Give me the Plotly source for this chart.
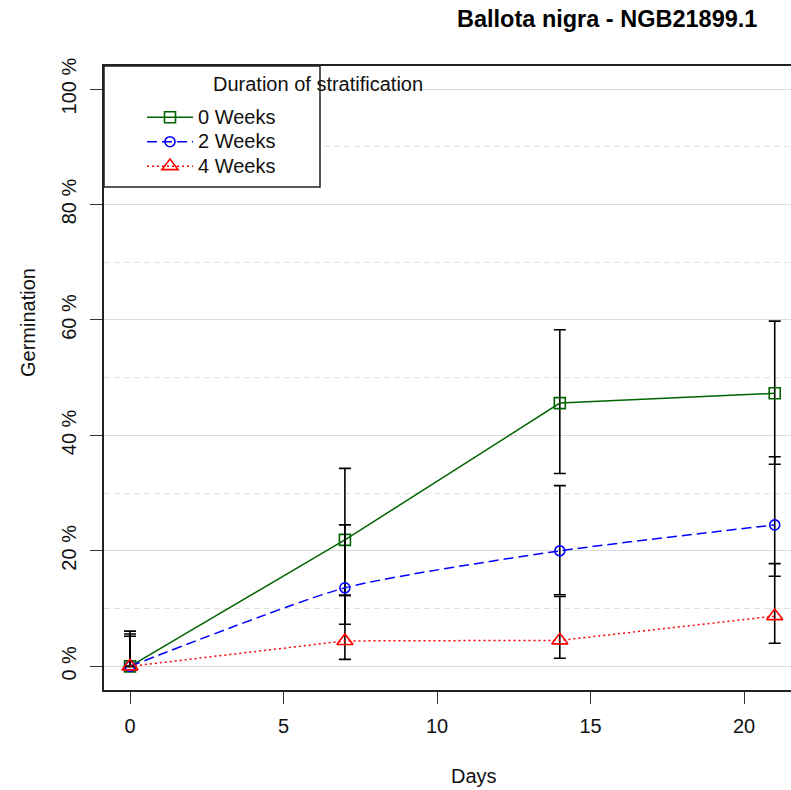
import plotly.graph_objects as go

days = [0, 7, 14, 21]
series_names = ["0 Weeks", "2 Weeks", "4 Weeks"]
mean_0w = [0.0, 21.9, 45.6, 47.3]
upper_0w = [6.1, 34.3, 58.3, 59.8]
lower_0w = [0.0, 12.3, 33.4, 35.0]
mean_2w = [0.0, 13.6, 20.0, 24.5]
upper_2w = [5.6, 24.5, 31.3, 36.3]
lower_2w = [0.0, 7.3, 12.4, 15.6]
mean_4w = [0.0, 4.4, 4.5, 8.7]
upper_4w = [5.2, 12.3, 12.1, 17.8]
lower_4w = [0.0, 1.2, 1.4, 4.0]
y_ticks = [0, 20, 40, 60, 80, 100]
y_ticklabels = ["0 %", "20 %", "40 %", "60 %", "80 %", "100 %"]
x_ticks = [0, 5, 10, 15, 20]

FONT = "Liberation Sans, Arial, sans-serif"
W, H = 791, 790
L, T, R, B = 104, 66, 0, 100
pw, ph = W - L - R, H - T - B

def px_x(p):
    return (p - L) / pw

def px_y(p):
    return (H - B - p) / ph

styles = [
    dict(color="#006400", dash="solid", symbol="square-open", size=11, shape="linear"),
    dict(color="#0000ff", dash="10px,5px", symbol="circle-open", size=10, shape="spline"),
    dict(color="#ff0000", dash="2px,3px", symbol="triangle-up-open", size=14, shape="linear"),
]
data = [(mean_0w, upper_0w, lower_0w), (mean_2w, upper_2w, lower_2w), (mean_4w, upper_4w, lower_4w)]

fig = go.Figure()
for name, (m, u, lo), st in zip(series_names, data, styles):
    fig.add_trace(go.Scatter(
        x=days, y=m, name="<span style='font-size:20px'>" + name + "</span>", mode="lines+markers",
        line=dict(color=st["color"], dash=st["dash"], width=1.5, shape=st["shape"], smoothing=0.6),
        marker=dict(symbol=st["symbol"], size=st["size"], color=st["color"], line=dict(width=1.6, color=st["color"])),
        error_y=dict(type="data", symmetric=False,
                     array=[a - b for a, b in zip(u, m)],
                     arrayminus=[b - c for b, c in zip(m, lo)],
                     color="black", thickness=1.6, width=6),
    ))

fig.update_layout(
    width=W, height=H,
    margin=dict(l=L, r=R, t=T, b=B),
    paper_bgcolor="white", plot_bgcolor="white",
    font=dict(family=FONT, size=20, color="#111"),
    showlegend=True,
    legend=dict(x=px_x(142), y=px_y(100), xanchor="left", yanchor="top",
                bgcolor="rgba(0,0,0,0)", borderwidth=0, itemwidth=46,
                font=dict(size=16.5, color="#111"), tracegroupgap=0),
    xaxis=dict(range=[-0.847, 21.53], tickvals=x_ticks, showgrid=False, zeroline=False,
               showline=True, linecolor="#222", linewidth=1.5, mirror=True,
               ticks="outside", ticklen=12, tickwidth=1.3, tickcolor="#333",
               tickfont=dict(size=20), ticklabelstandoff=5),
    yaxis=dict(range=[-4.1, 104.0], tickvals=y_ticks, ticktext=y_ticklabels, tickangle=-90,
               showgrid=True, gridcolor="#dcdcdc", gridwidth=1, zeroline=False,
               showline=True, linecolor="#222", linewidth=1.5, mirror=False,
               ticks="outside", ticklen=12, tickwidth=1.3, tickcolor="#333",
               tickfont=dict(size=20), ticklabelstandoff=6,
               minor=dict(dtick=10, tick0=0, showgrid=True, gridcolor="#e0e0e0",
                          griddash="6px,4px", gridwidth=1, ticks="")),
)

fig.add_shape(type="rect", xref="paper", yref="paper",
              x0=0, x1=px_x(320), y0=px_y(187), y1=1,
              line=dict(color="#222", width=1.5), fillcolor="white", layer="above")

fig.add_annotation(text="Duration of stratification", xref="paper", yref="paper",
                   x=px_x(211), y=px_y(84), xanchor="left", yanchor="middle",
                   showarrow=False, font=dict(size=20, color="#111"))
fig.add_annotation(text="<b>Ballota nigra - NGB21899.1</b>", xref="paper", yref="paper",
                   x=px_x(759), y=px_y(19), xanchor="right", yanchor="middle",
                   showarrow=False, font=dict(size=23.5, color="#000"))
fig.add_annotation(text="Days", xref="paper", yref="paper",
                   x=px_x(474), y=px_y(776), xanchor="center", yanchor="middle",
                   showarrow=False, font=dict(size=20, color="#111"))
fig.add_annotation(text="Germination", xref="paper", yref="paper",
                   x=px_x(28), y=px_y(323), xanchor="center", yanchor="middle",
                   textangle=-90, showarrow=False, font=dict(size=20, color="#111"))

fig.write_html("out.html")
